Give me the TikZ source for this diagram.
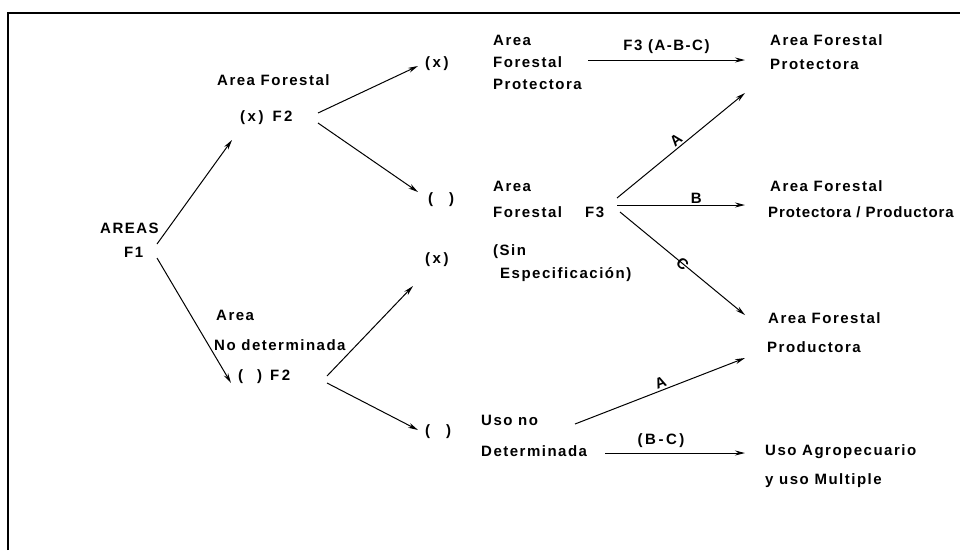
\documentclass[tikz,border=0pt]{standalone}
\usepackage{fontspec}
\setmainfont{Liberation Sans}[LetterSpace=10]
\usetikzlibrary{arrows.meta}
\begin{document}
\begin{tikzpicture}[x=1pt,y=-1pt,
  lbl/.style={anchor=west,inner sep=0pt,font=\fontsize{15}{15}\selectfont\bfseries},
  arr/.style={line width=1pt,-{Stealth[length=10pt,width=5pt]}},
  frame/.style={line width=2pt}]
\useasboundingbox (0,0) rectangle (960,550);
\draw[frame] (8,550) -- (8,13) -- (960,13);
% column 1
\node[lbl] (areas) at (100,228) {AREAS};
\node[lbl] (f1) at (124,252) {F1};
% column 2
\node[lbl] (af) at (217,80) {Area Forestal};
\node[lbl] (xf2) at (240,118) {(\,x\,)\hspace{9pt}F\,2};
\node[lbl] (and1) at (216,315) {Area};
\node[lbl] (and2) at (214,345) {No determinada};
\node[lbl] (ef2) at (238,377) {(\hspace{14pt})\hspace{8pt}F\,2};
% column 3
\node[lbl] (x1) at (425,64) {(\,x\,)};
\node[lbl] (e1) at (428,200) {(\hspace{16pt})};
\node[lbl] (x2) at (425,260) {(\,x\,)};
\node[lbl] (e2) at (425,432) {(\hspace{16pt})};
% column 4
\node[lbl] (afp1) at (493,40) {Area};
\node[lbl] (afp2) at (493,62) {Forestal};
\node[lbl] (afp3) at (493,84) {Protectora};
\node[lbl] (aff1) at (493,186) {Area};
\node[lbl] (aff2) at (493,212) {Forestal};
\node[lbl] (f3) at (585,212) {F3};
\node[lbl] (sin1) at (493,252) {(Sin};
\node[lbl] (sin2) at (500,275) {Especificación)};
\node[lbl] (und1) at (481,420) {Uso no};
\node[lbl] (und2) at (481,451) {Determinada};
% column 5
\node[lbl] (r11) at (770,40) {Area Forestal};
\node[lbl] (r12) at (770,64) {Protectora};
\node[lbl] (r21) at (770,186) {Area Forestal};
\node[lbl] (r22) at (768,212) {\addfontfeature{LetterSpace=6}Protectora / Productora};
\node[lbl] (r31) at (768,318) {Area Forestal};
\node[lbl] (r32) at (767,347) {Productora};
\node[lbl] (r41) at (765,452) {Uso Agropecuario};
\node[lbl] (r42) at (765,481) {y uso Multiple};
% connector ends
\coordinate (f1a) at (157,244); \coordinate (f1b) at (157,258);
\coordinate (xf2in) at (232,140); \coordinate (ef2in) at (231,383);
\coordinate (xf2a) at (318,113); \coordinate (xf2b) at (318,123);
\coordinate (x1in) at (418,66); \coordinate (e1in) at (418,192);
\coordinate (ef2a) at (327,376); \coordinate (ef2b) at (327,383);
\coordinate (x2in) at (413,286); \coordinate (e2in) at (418,430);
\coordinate (p1a) at (588,60); \coordinate (p1b) at (745,60);
\coordinate (f3a) at (617,198); \coordinate (f3b) at (617,205); \coordinate (f3c) at (620,212);
\coordinate (r1in) at (745,93); \coordinate (r2in) at (745,205); \coordinate (r3in) at (745,315);
\coordinate (unda) at (575,424); \coordinate (undb) at (605,453);
\coordinate (r3in2) at (745,358); \coordinate (r4in) at (745,453);
% connectors
\draw[arr] (f1a) -- (xf2in);
\draw[arr] (f1b) -- (ef2in);
\draw[arr] (xf2a) -- (x1in);
\draw[arr] (xf2b) -- (e1in);
\draw[arr] (ef2a) -- (x2in);
\draw[arr] (ef2b) -- (e2in);
\draw[arr] (p1a) -- node[lbl,anchor=south,yshift=6pt] (lf3) {F3 (A-B-C)} (p1b);
\draw[arr] (f3a) -- node[lbl,anchor=south,sloped,yshift=2pt] (la1) {A} (r1in);
\draw[arr] (f3b) -- node[lbl,anchor=south,pos=0.62,yshift=1pt] (lb) {B} (r2in);
\draw[arr] (f3c) -- node[lbl,anchor=center,sloped,pos=0.5] (lc) {C} (r3in);
\draw[arr] (unda) -- node[lbl,anchor=south,sloped,pos=0.52,yshift=2pt] (la2) {A} (r3in2);
\draw[arr] (undb) -- node[lbl,anchor=south,pos=0.4,yshift=5pt] (lbc) {(\,B\,-\,C\,)} (r4in);
\end{tikzpicture}
\end{document}
